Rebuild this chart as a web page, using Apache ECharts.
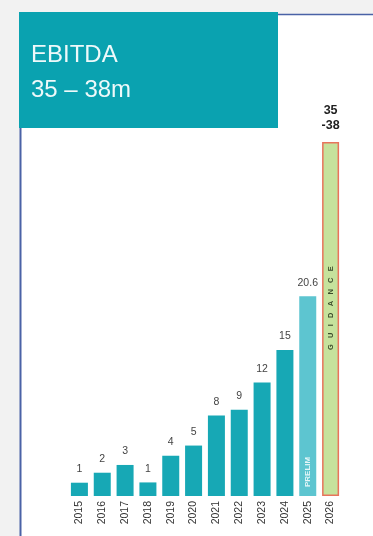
<!DOCTYPE html>
<html>
<head>
<meta charset="utf-8">
<script src="https://cdn.jsdelivr.net/npm/echarts@6/dist/echarts.min.js"></script>
<style>
html,body{margin:0;padding:0;background:#f2f2f2;}
#c{width:373px;height:536px;}
</style>
</head>
<body>
<div id="c"></div>
<script>
const categories = ['2015','2016','2017','2018','2019','2020','2021','2022','2023','2024','2025','2026'];
const values = [1.37, 2.4, 3.2, 1.4, 4.15, 5.2, 8.3, 8.9, 11.7, 15.05, 20.6, 36.5];
const valueLabels = ['1','2','3','1','4','5','8','9','12','15','20.6','35\n-38'];
const innerLabels = ['','','','','','','','','','','PRELIM','G   U   I   D   A   N   C   E'];
const titleText = 'EBITDA\n35 – 38m';

const TEAL = '#17a8b5', PRELIM_C = '#5dc5d0', GREEN = '#c6e29c', BORDER = '#e8745c';

const chart = echarts.init(document.getElementById('c'), null, {renderer: 'canvas'});

const mainData = values.map((v, i) => {
  const item = {value: v, itemStyle: {color: TEAL}};
  if (i === 10) item.itemStyle = {color: PRELIM_C};
  if (i === 11) {
    item.itemStyle = {color: GREEN, borderColor: BORDER, borderWidth: 1.5};
    item.label = {fontWeight: 'bold', fontSize: 12.5, color: '#1e1e1e', lineHeight: 15, distance: 9};
  }
  return item;
});

const innerData = values.map((v, i) => {
  const item = {value: v};
  if (i === 10) item.label = {show: true, color: '#e4f6f8', fontSize: 8, fontWeight: 'bold', distance: 9};
  if (i === 11) item.label = {show: true, color: '#3a4a2a', fontSize: 7.5, fontWeight: 'bold', distance: 146};
  return item;
});

chart.setOption({
  backgroundColor: '#f2f2f2',
  animation: false,
  graphic: [
    {type: 'rect', shape: {x: 20, y: 14, width: 360, height: 530}, style: {fill: '#ffffff'}, z: -10},
    {type: 'line', shape: {x1: 20.5, y1: 14, x2: 20.5, y2: 536}, style: {stroke: '#4a62a6', lineWidth: 2}, z: -5},
    {type: 'line', shape: {x1: 20, y1: 14.5, x2: 373, y2: 14.5}, style: {stroke: '#4a62a6', lineWidth: 1.5}, z: -5},
    {type: 'rect', shape: {x: 19, y: 12, width: 259, height: 116}, style: {fill: '#0aa2b0'}, z: -4}
  ],
  title: {
    text: titleText,
    left: 31, top: 38, padding: 0,
    textStyle: {color: '#eef9fa', fontSize: 24, fontWeight: 'normal', fontFamily: 'Liberation Sans, Arial, sans-serif', lineHeight: 35}
  },
  grid: {left: 68, right: 31, top: 108, bottom: 40},
  xAxis: {
    type: 'category', data: categories,
    axisLine: {show: false}, axisTick: {show: false},
    axisLabel: {rotate: 90, fontSize: 10.5, color: '#333', margin: 5, fontFamily: 'Liberation Sans, Arial, sans-serif', interval: 0}
  },
  yAxis: {type: 'value', min: 0, max: 40, show: false, splitLine: {show: false}},
  series: [
    {
      type: 'bar', data: mainData, barWidth: 17,
      label: {
        show: true, position: 'top', distance: 8, fontSize: 10.5, color: '#444',
        fontFamily: 'Liberation Sans, Arial, sans-serif',
        formatter: p => valueLabels[p.dataIndex]
      }
    },
    {
      type: 'bar', data: innerData, barWidth: 17, barGap: '-100%',
      itemStyle: {color: 'rgba(0,0,0,0)'},
      label: {
        show: false, position: 'insideBottom', rotate: 90, align: 'left', verticalAlign: 'middle',
        fontFamily: 'Liberation Sans, Arial, sans-serif',
        formatter: p => innerLabels[p.dataIndex]
      },
      z: 5
    }
  ]
});
</script>
</body>
</html>
